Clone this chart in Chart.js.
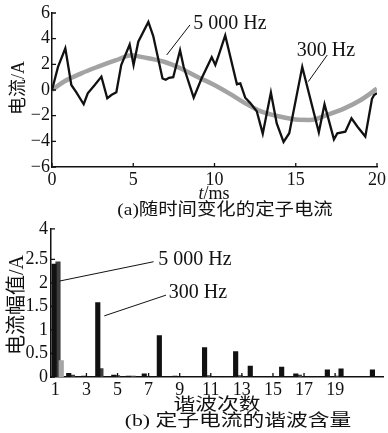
<!DOCTYPE html>
<html>
<head>
<meta charset="utf-8">
<script src="https://cdn.jsdelivr.net/npm/chart.js@4.4.1/dist/chart.umd.min.js"></script>
<style>
  body { margin: 0; background: #fff; }
  #wrap { position: relative; width: 388px; height: 433px; overflow: hidden; background: #fff; }
  canvas { position: absolute; left: 0; }
  .txt { position: absolute; transform: translate(-50%, -50%); white-space: nowrap; color: #111;
         font-family: 'Liberation Serif', 'Noto Sans CJK SC', serif; line-height: 1; }
  .rot { transform: translate(-50%, -50%) rotate(-90deg); }
</style>
</head>
<body>
<div id="wrap">
  <canvas id="top" width="388" height="200" style="top:0"></canvas>
  <canvas id="bottom" width="388" height="200" style="top:215px"></canvas>

  <div class="txt rot" style="left:18px; top:88px; font-size:18px;">电流/A</div>
  <div class="txt" style="left:214px; top:193px; font-size:18px;"><i>t</i>/ms</div>
  <div class="txt" style="left:225px; top:209px; font-size:17px; transform: translate(-50%, -50%) scaleX(1.14);">(a)随时间变化的定子电流</div>
  <div class="txt" style="left:230px; top:22px; font-size:20px;">5 000 Hz</div>
  <div class="txt" style="left:326px; top:49px; font-size:20px;">300 Hz</div>

  <div class="txt rot" style="left:16px; top:305px; font-size:20px;">电流幅值/A</div>
  <div class="txt" style="left:217px; top:404px; font-size:17px; transform: translate(-50%, -50%) scaleX(1.28);">谐波次数</div>
  <div class="txt" style="left:238px; top:420px; font-size:17px; transform: translate(-50%, -50%) scaleX(1.28);">(b) 定子电流的谐波含量</div>
  <div class="txt" style="left:195px; top:258px; font-size:20px;">5 000 Hz</div>
  <div class="txt" style="left:198px; top:291px; font-size:20px;">300 Hz</div>
</div>

<script>
// (a) stator current vs time, t in ms, current in A
const t300 = [0, 0.37, 0.82, 1.19, 1.5, 1.95, 2.2, 2.63, 3.04, 3.4, 3.65, 3.96, 4.26, 4.78, 5.02, 5.31,
  5.93, 6.23, 6.8, 7.0, 7.2, 7.46, 7.88, 8.1, 8.72, 9.21, 9.83, 10.05, 10.26, 10.66, 11.38, 11.59, 11.89,
  12.19, 12.6, 12.97, 13.47, 13.83, 14.25, 14.6, 15.4, 16.42, 16.77, 17.35, 17.56, 18.05, 18.43, 18.8,
  19.28, 19.69, 19.82, 20];
const i300 = [0, 1.8, 3.25, 0.39, -0.18, -1.11, -0.26, 0.39, 1.04, -0.65, -0.39, -0.18, 1.95, 3.55, 1.95, 3.76,
  5.3, 4.2, 0.9, 0.8, 0.95, 1.0, 3.1, 1.81, -0.6, 0.91, 2.55, 1.95, 2.72, 4.25, 0.45, 0.52, -0.6,
  -1.0, -1.65, -3.4, -0.2, -2.6, -4.05, -3.37, 1.8, -3.3, -1.11, -3.85, -3.37, -3.25, -2.2, -2.86,
  -3.63, -0.7, -0.39, -0.25];
const t5000 = [0, 0.8, 1.8, 2.8, 3.9, 4.9, 5.4, 6.0, 6.9, 7.9, 8.9, 9.9, 10.9, 11.9, 12.9, 14.0, 15.0,
  15.9, 16.9, 18.0, 19.0, 20];
const i5000 = [0, 0.7, 1.3, 1.8, 2.3, 2.7, 2.6, 2.45, 2.2, 1.7, 1.05, 0.45, -0.26, -1.04, -1.69, -2.07, -2.3,
  -2.33, -1.95, -1.43, -0.78, 0.1];

// (b) harmonic content: harmonic order position and amplitude (A)
const order300 = [0.92, 1.86, 2.83, 3.73, 4.76, 5.7, 6.72, 7.69, 8.7, 10.6, 11.8, 12.6, 13.54, 14.6, 15.56,
  16.47, 18.5, 19.38, 21.4];
const amp300 = [2.4, 0.08, 0.02, 1.58, 0.04, 0.02, 0.07, 0.88, 0.02, 0.625, 0.01, 0.54, 0.23, 0.01, 0.21,
  0.07, 0.15, 0.175, 0.15];
const order5000 = [1.17, 1.38, 2.1, 3.93, 5.0, 6.0, 10.85, 12.9, 16.7, 19.1];
const amp5000 = [2.45, 0.35, 0.04, 0.18, 0.03, 0.02, 0.03, 0.03, 0.04, 0.02];

const xTicksB = [1, 3, 5, 7, 9, 11, 13, 15, 17, 19];
const yTicksB = [0, 0.5, 1, 1.5, 2, 2.5];
const yTopB = 3.15;
const yTopLabelB = '4';

Chart.defaults.font.family = "'Liberation Serif', 'Times New Roman', serif";
Chart.defaults.font.size = 18;
Chart.defaults.color = '#111';

const pts = (xs, ys) => xs.map((x, i) => ({ x: x, y: ys[i] }));

// tick marks pointing into the plot, plus leader lines for the labels
const inTicks = {
  id: 'inTicks',
  afterDraw(chart, args, opts) {
    const { ctx, chartArea: a, scales } = chart;
    ctx.save();
    ctx.strokeStyle = '#111';
    ctx.lineWidth = 1.3;
    ctx.beginPath();
    scales.x.ticks.forEach(tk => {
      const px = scales.x.getPixelForValue(tk.value);
      ctx.moveTo(px, a.bottom); ctx.lineTo(px, a.bottom - 4);
    });
    scales.y.ticks.forEach(tk => {
      const py = scales.y.getPixelForValue(tk.value);
      ctx.moveTo(a.left, py); ctx.lineTo(a.left + 4, py);
    });
    ctx.stroke();
    ctx.lineWidth = 1;
    ctx.beginPath();
    (opts.leaders || []).forEach(l => {
      ctx.moveTo(scales.x.getPixelForValue(l[0]), scales.y.getPixelForValue(l[1]));
      ctx.lineTo(scales.x.getPixelForValue(l[2]), scales.y.getPixelForValue(l[3]));
    });
    ctx.stroke();
    ctx.restore();
  }
};

const axisBorder = { display: true, color: '#111', width: 1.5 };

new Chart(document.getElementById('top'), {
  type: 'line',
  data: {
    datasets: [
      { label: '300 Hz', data: pts(t300, i300), borderColor: '#111', borderWidth: 2.3,
        pointRadius: 0, tension: 0 },
      { label: '5 000 Hz', data: pts(t5000, i5000), borderColor: '#a3a3a3', borderWidth: 4.5,
        pointRadius: 0, cubicInterpolationMode: 'monotone' }
    ]
  },
  options: {
    responsive: false,
    animation: false,
    layout: { padding: { top: 13, right: 11, left: 0, bottom: 0 } },
    plugins: {
      legend: { display: false },
      tooltip: { enabled: false },
      inTicks: { leaders: [[8.49, 5.07, 7.06, 2.73], [16.94, 2.73, 15.77, 0.65]] }
    },
    scales: {
      x: {
        type: 'linear', min: 0, max: 20,
        grid: { display: false, drawTicks: false },
        border: axisBorder,
        ticks: { stepSize: 5, padding: 2, maxRotation: 0 },
        afterFit: s => { s.height = 33; }
      },
      y: {
        min: -6, max: 6,
        grid: { display: false, drawTicks: false },
        border: axisBorder,
        ticks: { stepSize: 2, padding: 2, callback: v => String(v).replace('-', '\u2212') },
        afterFit: s => { s.width = 52; }
      }
    }
  },
  plugins: [inTicks]
});

new Chart(document.getElementById('bottom'), {
  type: 'bar',
  data: {
    datasets: [
      { label: '300 Hz', data: pts(order300, amp300), backgroundColor: '#111',
        barThickness: 4.5, grouped: false },
      { label: '5 000 Hz', data: pts(order5000, amp5000),
        backgroundColor: c => (c.dataIndex === 1 ? '#a5a5a5' : '#3d3d3d'),
        barThickness: 4.5, grouped: false }
    ]
  },
  options: {
    responsive: false,
    animation: false,
    layout: { padding: { top: 11, right: 5, left: 0, bottom: 20 } },
    plugins: {
      legend: { display: false },
      tooltip: { enabled: false },
      inTicks: { leaders: [[7.32, 2.45, 1.28, 2.04], [8.12, 1.74, 4.15, 1.3]] }
    },
    scales: {
      x: {
        type: 'linear', min: 0.72, max: 22.08, offset: false,
        grid: { display: false, drawTicks: false },
        border: axisBorder,
        ticks: { padding: 2, maxRotation: 0, autoSkip: false },
        afterBuildTicks: s => { s.ticks = xTicksB.map(v => ({ value: v })); },
        afterFit: s => { s.height = 18; }
      },
      y: {
        min: 0, max: yTopB,
        grid: { display: false, drawTicks: false },
        border: axisBorder,
        ticks: { padding: 3, autoSkip: false,
          callback: v => (v === yTopB ? yTopLabelB : String(v)) },
        afterBuildTicks: s => { s.ticks = yTicksB.concat([yTopB]).map(v => ({ value: v })); },
        afterFit: s => { s.width = 51; }
      }
    }
  },
  plugins: [inTicks]
});
</script>
</body>
</html>
